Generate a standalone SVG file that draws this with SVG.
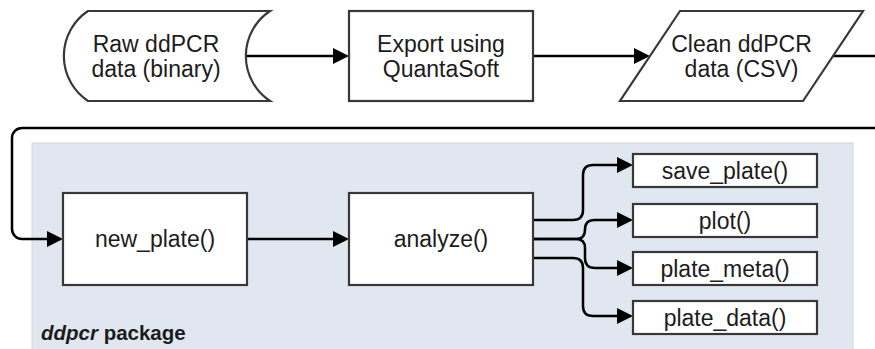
<svg xmlns="http://www.w3.org/2000/svg" width="875" height="349" viewBox="0 0 875 349">
  <style>
    .shape { fill: #ffffff; stroke: #383838; stroke-width: 2.2; }
    .label { font-family: "Liberation Sans", Arial, sans-serif; font-size: 23px; fill: #1c1c1c; text-anchor: middle; }
    .edge { fill: none; stroke: #000000; stroke-width: 2.5; marker-end: url(#arrow); }
    .pkg { fill: #e1e7f0; stroke: #d2d6dc; stroke-width: 1; }
    .pkg-label { font-family: "Liberation Sans", Arial, sans-serif; font-size: 20.5px; font-weight: bold; fill: #1c1c1c; }
  </style>
  <defs>
    <marker id="arrow" markerUnits="userSpaceOnUse" markerWidth="16" markerHeight="16" refX="0" refY="8" orient="auto">
      <path d="M0,0 L16,8 L0,16 Z" fill="#000000"/>
    </marker>
  </defs>

  <!-- package container -->
  <g id="ddpcr-package">
    <rect class="pkg" x="32" y="143" width="821" height="212"/>
    <text class="pkg-label" x="41" y="340"><tspan font-style="italic">ddpcr</tspan> package</text>
  </g>

  <!-- connectors -->
  <g id="connectors">
    <path class="edge" d="M245,56 H333"/>
    <path class="edge" d="M533,56 H634"/>
    <path class="edge" d="M833,56 H890 V128 H22 A10,10 0 0 0 12,138 V229 A10,10 0 0 0 22,239 H47"/>
    <path class="edge" d="M247,239 H333"/>
    <path class="edge" d="M533,220 H573 Q583,220 583,210 V175 Q583,165 593,165 H617"/>
    <path class="edge" d="M533,239 H576 Q585,239 585,229.5 Q585,220 594.5,220 H617"/>
    <path class="edge" d="M533,239 H576 Q585,239 585,248 V258 Q585,268 595,268 H617"/>
    <path class="edge" d="M533,258 H573 Q583,258 583,268 V306 Q583,316 593,316 H617"/>
  </g>

  <!-- nodes -->
  <g id="raw-data">
    <path class="shape" d="M88,11 H270 A54,54 0 0 0 270,101 H88 A54,54 0 0 1 88,11 Z"/>
    <text class="label" x="156" y="52">Raw ddPCR</text>
    <text class="label" x="156" y="77">data (binary)</text>
  </g>

  <g id="export">
    <rect class="shape" x="349" y="11" width="184" height="90"/>
    <text class="label" x="441" y="52">Export using</text>
    <text class="label" x="441" y="77">QuantaSoft</text>
  </g>

  <g id="clean-data">
    <path class="shape" d="M680,11 H863 L803,101 H620 Z"/>
    <text class="label" x="741.5" y="52">Clean ddPCR</text>
    <text class="label" x="741.5" y="77">data (CSV)</text>
  </g>

  <g id="new-plate">
    <rect class="shape" x="63" y="193" width="184" height="92"/>
    <text class="label" x="155" y="247">new_plate()</text>
  </g>

  <g id="analyze">
    <rect class="shape" x="349" y="193" width="184" height="92"/>
    <text class="label" x="441" y="247">analyze()</text>
  </g>

  <g id="save-plate">
    <rect class="shape" x="633" y="154" width="184" height="33"/>
    <text class="label" x="725" y="178.5">save_plate()</text>
  </g>

  <g id="plot">
    <rect class="shape" x="633" y="204" width="184" height="33"/>
    <text class="label" x="725" y="228.5">plot()</text>
  </g>

  <g id="plate-meta">
    <rect class="shape" x="633" y="252" width="184" height="33"/>
    <text class="label" x="725" y="276.5">plate_meta()</text>
  </g>

  <g id="plate-data">
    <rect class="shape" x="633" y="301" width="184" height="33"/>
    <text class="label" x="725" y="325.5">plate_data()</text>
  </g>
</svg>
